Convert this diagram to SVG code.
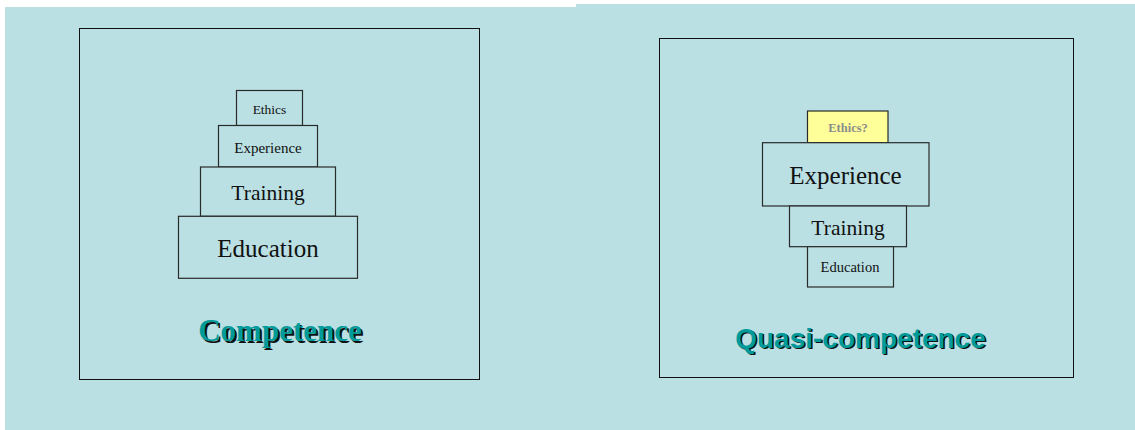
<svg xmlns="http://www.w3.org/2000/svg" width="1135" height="430" viewBox="0 0 1135 430">
<style>
.bg{fill:#bae0e3}
.frame{fill:none;stroke:#111;stroke-width:1}
.blk{fill:#bae0e3;stroke:#2a2a2a;stroke-width:1.2}
.lbl{font-family:"Liberation Serif","Times New Roman",serif;fill:#111;text-anchor:middle}
.title{font-weight:bold;fill:#009a9a;text-anchor:middle}
.shadow{font-weight:bold;fill:#111;text-anchor:middle}
.serif{font-family:"Liberation Serif","Times New Roman",serif}
.sans{font-family:"Liberation Sans",Arial,sans-serif}
</style>
<rect width="1135" height="430" fill="#ffffff"/>
<rect class="bg" x="5" y="7" width="575" height="423"/>
<rect class="bg" x="576" y="4" width="559" height="426"/>

<g id="panel-left">
<rect class="frame" x="79.5" y="28.5" width="400" height="351"/>
</g>
<g id="panel-right">
<rect class="frame" x="659.5" y="38.5" width="414" height="339"/>
</g>

<g id="l-ethics">
<rect class="blk" x="236.5" y="90.5" width="66" height="35"/>
<text class="lbl" x="269.5" y="113.5" font-size="13.5">Ethics</text>
</g>
<g id="l-experience">
<rect class="blk" x="218.5" y="125.5" width="99" height="41.5"/>
<text class="lbl" x="268" y="153" font-size="15">Experience</text>
</g>
<g id="l-training">
<rect class="blk" x="200.5" y="167" width="135" height="49.3"/>
<text class="lbl" x="268" y="199.5" font-size="21.5">Training</text>
</g>
<g id="l-education">
<rect class="blk" x="178.5" y="216.3" width="179" height="62"/>
<text class="lbl" x="268" y="256.5" font-size="25">Education</text>
</g>
<g id="l-title">
<text class="shadow serif" x="282" y="342.5" font-size="31">Competence</text>
<text class="title serif" x="280" y="340.5" font-size="31">Competence</text>
</g>

<g id="r-ethics">
<rect x="807.5" y="111" width="80.5" height="31.7" fill="#ffff99" stroke="#2a2a2a" stroke-width="1.2"/>
<text x="848" y="131.5" font-size="12.5" font-weight="bold" fill="#8c8c8c" text-anchor="middle" class="serif">Ethics?</text>
</g>
<g id="r-experience">
<rect class="blk" x="762.5" y="142.7" width="166.5" height="63.3"/>
<text class="lbl" x="845.5" y="184.3" font-size="25">Experience</text>
</g>
<g id="r-training">
<rect class="blk" x="789.5" y="206" width="117" height="40.7"/>
<text class="lbl" x="848" y="235" font-size="21.5">Training</text>
</g>
<g id="r-education">
<rect class="blk" x="807.5" y="246.7" width="86" height="40.3"/>
<text class="lbl" x="850" y="272.3" font-size="14.5">Education</text>
</g>
<g id="r-title">
<text class="shadow sans" x="862" y="349" font-size="28">Quasi-competence</text>
<text class="title sans" x="860.5" y="347.5" font-size="28">Quasi-competence</text>
</g>
</svg>
